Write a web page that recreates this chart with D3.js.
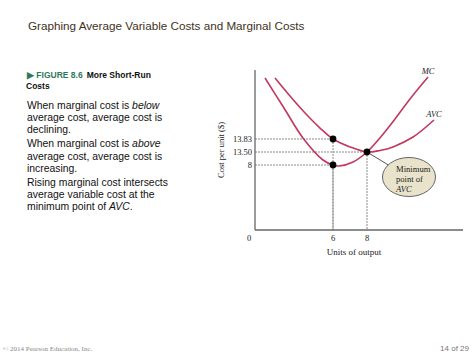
<!DOCTYPE html>
<html><head><meta charset="utf-8">
<script src="https://cdn.jsdelivr.net/npm/d3@7"></script>
<style>body{margin:0;background:#fff}svg{display:block}</style>
</head><body>
<script>
// ---- data ----
const mcX  = [0.77, 2.23, 3.69, 5.23, 6, 6.35, 7.18, 8, 8.76, 9.65, 10.53, 11.59];
const mcY  = [19.28, 16.60, 13.92, 10.12, 8, 7.88, 9.27, 13.5, 13.92, 15.62, 17.41, 19.37];
const avcX = [1.54, 2.69, 3.85, 5.0, 6, 7.0, 8, 8.76, 9.53, 10.71, 11.94];
const avcY = [19.28, 17.67, 16.15, 14.81, 13.83, 13.63, 13.5, 13.54, 13.63, 14.01, 15.53];
const keyX = [6, 6, 8];
const keyY = [8, 13.83, 13.5];
const xTicks = [0, 6, 8];
const xTickLabels = ["0", "6", "8"];
const yTicks = [8, 13.5, 13.83];
const yTickLabels = ["8", "13.50", "13.83"];
const bodyLines = [
  [["When marginal cost is ", 0], ["below", 1]],
  [["average cost, average cost is", 0]],
  [["declining.", 0]],
  [["When marginal cost is ", 0], ["above", 1]],
  [["average cost, average cost is", 0]],
  [["increasing.", 0]],
  [["Rising marginal cost intersects", 0]],
  [["average variable cost at the", 0]],
  [["minimum point of ", 0], ["AVC", 1], [".", 0]]
];

const W = 474, H = 355;
const svg = d3.select("body").append("svg").attr("width", W).attr("height", H);
const sans = "'Liberation Sans', Arial, sans-serif";
const serif = "'Liberation Serif', 'Times New Roman', serif";

// title
svg.append("text").attr("x", 28).attr("y", 29.5)
  .style("font-family", sans).style("font-size", "11.7px").attr("fill", "#3f3222")
  .text("Graphing Average Variable Costs and Marginal Costs");

// figure caption
const cap = svg.append("text").attr("x", 27).attr("y", 78)
  .style("font-family", sans).style("font-size", "8.5px").style("font-weight", "bold");
cap.append("tspan").attr("fill", "#2c7a5c").text("\u25B6 FIGURE 8.6");
cap.append("tspan").attr("fill", "#111").attr("dx", 4).text("More Short-Run");
svg.append("text").attr("x", 26).attr("y", 88.5)
  .style("font-family", sans).style("font-size", "8.5px").style("font-weight", "bold")
  .attr("fill", "#111").text("Costs");

// body text
const baselines = [108.7, 121, 133.4, 147.4, 159.7, 172, 185.6, 197.9, 210.2];
bodyLines.forEach((ln, i) => {
  const t = svg.append("text").attr("x", 27).attr("y", baselines[i])
    .style("font-family", sans).style("font-size", "10.4px").attr("fill", "#111");
  ln.forEach(([s, it]) => t.append("tspan").style("font-style", it ? "italic" : "normal").text(s));
});

// ---- chart ----
const x = d3.scaleLinear().domain([0, 6, 8, 14]).range([255, 333, 367, 469]);
const y = d3.scaleLinear().domain([0, 8, 13.5, 13.83, 20]).range([230, 165, 152, 139, 70]);

const g = svg.append("g");
// dashed guides
keyX.forEach((kx, i) => {
  const ky = keyY[i];
  g.append("line").attr("x1", x(0)).attr("x2", x(kx)).attr("y1", y(ky)).attr("y2", y(ky))
    .attr("stroke", "#8a8a8a").attr("stroke-width", 1).attr("stroke-dasharray", "2,1");
  g.append("line").attr("x1", x(kx)).attr("x2", x(kx)).attr("y1", y(ky)).attr("y2", y(0))
    .attr("stroke", "#8a8a8a").attr("stroke-width", 1).attr("stroke-dasharray", "2,1");
});

// axes
g.append("line").attr("x1", x(0)).attr("x2", x(0)).attr("y1", y(0)).attr("y2", y(20))
  .attr("stroke", "#666").attr("stroke-width", 1.3);
g.append("line").attr("x1", x(0)).attr("x2", x(13.65)).attr("y1", y(0)).attr("y2", y(0))
  .attr("stroke", "#666").attr("stroke-width", 1.3);

// tick labels
xTicks.forEach((t, i) => {
  g.append("text").attr("x", x(t) - (t === 0 ? 6 : 0)).attr("y", 240.5).attr("text-anchor", "middle")
    .style("font-family", serif).style("font-size", "8.5px").attr("fill", "#222").text(xTickLabels[i]);
});
yTicks.forEach((t, i) => {
  g.append("text").attr("x", 252).attr("y", y(t) + 3).attr("text-anchor", "end")
    .style("font-family", serif).style("font-size", "8.5px").attr("fill", "#222").text(yTickLabels[i]);
});

// axis titles
g.append("text").attr("x", 354).attr("y", 255).attr("text-anchor", "middle")
  .style("font-family", serif).style("font-size", "9px").attr("fill", "#222").text("Units of output");
g.append("text").attr("transform", "translate(224,150) rotate(-90)").attr("text-anchor", "middle")
  .style("font-family", serif).style("font-size", "8.5px").attr("fill", "#222").text("Cost per unit ($)");

// curves
const line = d3.line().x(d => x(d[0])).y(d => y(d[1])).curve(d3.curveCatmullRom.alpha(0.5));
const curveColor = "#c2375d";
g.append("path").datum(mcX.map((v, i) => [v, mcY[i]])).attr("d", line)
  .attr("fill", "none").attr("stroke", curveColor).attr("stroke-width", 1.6);
g.append("path").datum(avcX.map((v, i) => [v, avcY[i]])).attr("d", line)
  .attr("fill", "none").attr("stroke", curveColor).attr("stroke-width", 1.6);

// curve labels
g.append("text").attr("x", x(mcX[mcX.length - 1])).attr("y", y(mcY[mcY.length - 1]) - 3).attr("text-anchor", "middle")
  .style("font-family", serif).style("font-style", "italic").style("font-size", "8.5px").attr("fill", "#222").text("MC");
g.append("text").attr("x", x(avcX[avcX.length - 1])).attr("y", y(avcY[avcY.length - 1]) - 3).attr("text-anchor", "middle")
  .style("font-family", serif).style("font-style", "italic").style("font-size", "8.5px").attr("fill", "#222").text("AVC");

// callout
const minPt = [x(keyX[2]), y(keyY[2])];
g.append("line").attr("x1", minPt[0]).attr("y1", minPt[1]).attr("x2", 390).attr("y2", 166)
  .attr("stroke", "#555").attr("stroke-width", 1);
g.append("ellipse").attr("cx", 409).attr("cy", 177).attr("rx", 26.5).attr("ry", 19.5)
  .attr("fill", "#e9e3cb").attr("stroke", "#666").attr("stroke-width", 1);
const ct = [["Minimum", 0, 171.5], ["point of", 0, 181.5], ["AVC", 1, 191.5]];
ct.forEach(([s, it, yy]) => {
  g.append("text").attr("x", 396).attr("y", yy)
    .style("font-family", serif).style("font-size", "8.6px").style("font-style", it ? "italic" : "normal")
    .attr("fill", "#222").text(s);
});

// dots
keyX.forEach((kx, i) => {
  g.append("circle").attr("cx", x(kx)).attr("cy", y(keyY[i])).attr("r", 3.4).attr("fill", "#000");
});

// footer
svg.append("text").attr("x", 3).attr("y", 351)
  .style("font-family", serif).style("font-size", "7px").attr("fill", "#888")
  .text("\u00A9 2014 Pearson Education, Inc.");
svg.append("text").attr("x", 469).attr("y", 351).attr("text-anchor", "end")
  .style("font-family", sans).style("font-size", "8px").attr("fill", "#777").text("14 of 29");
</script>
</body></html>
